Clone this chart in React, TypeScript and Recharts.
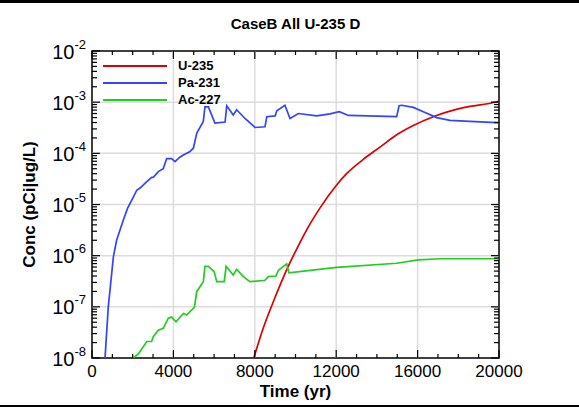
import { LineChart, Line, XAxis, YAxis, ReferenceLine, ReferenceArea, Legend } from 'recharts';

// time (yr) and concentration for each nuclide
const U235_TIME = [7950, 8400, 8900, 9620, 10220, 10550, 11200, 12020, 12510, 13330, 14150, 14970, 15790, 16770, 18250, 19890, 20000];
const U235_CONC = [1.0e-8, 3.7e-8, 1.23e-7, 5.9e-7, 1.8e-6, 3.2e-6, 8.5e-6, 2.4e-5, 4.0e-5, 7.6e-5, 1.32e-4, 2.3e-4, 3.5e-4, 5.2e-4, 7.8e-4, 1.02e-3, 1.05e-3];

const PA231_TIME = [640, 800, 1050, 1210, 1380, 1540, 1750, 2030, 2200, 2360, 2600, 2930, 3010, 3260, 3500, 3670, 3910, 4080, 4300, 4490, 4800, 4980, 5150, 5470, 5550, 5720, 6040, 6540, 6620, 6940, 7110, 7520, 8010, 8500, 8590, 9000, 9080, 9480, 9730, 10140, 11040, 11700, 12150, 12600, 14970, 15090, 15220, 15790, 16280, 16940, 17590, 18570, 19890, 20000];
const PA231_CONC = [1.0e-8, 1.0e-7, 9.5e-7, 2.0e-6, 3.2e-6, 5.0e-6, 8.5e-6, 1.4e-5, 1.9e-5, 2.1e-5, 2.6e-5, 3.4e-5, 3.4e-5, 4.4e-5, 5.0e-5, 7.9e-5, 7.9e-5, 6.9e-5, 8.3e-5, 9.3e-5, 1.07e-4, 1.26e-4, 2.5e-4, 4.2e-4, 8.1e-4, 8.1e-4, 3.9e-4, 4.1e-4, 8.5e-4, 5.6e-4, 7.1e-4, 4.8e-4, 3.2e-4, 3.3e-4, 5.2e-4, 5.4e-4, 6.8e-4, 8.7e-4, 4.8e-4, 6.0e-4, 5.4e-4, 5.9e-4, 6.5e-4, 5.5e-4, 5.2e-4, 8.5e-4, 8.7e-4, 7.9e-4, 6.5e-4, 5.0e-4, 4.4e-4, 4.2e-4, 4.0e-4, 4.0e-4];

const AC227_TIME = [2030, 2280, 2690, 2930, 3010, 3260, 3500, 3750, 3910, 4130, 4490, 4650, 5030, 5150, 5470, 5550, 5720, 6000, 6130, 6500, 6590, 6940, 7110, 7440, 7760, 8500, 8670, 9040, 9160, 9570, 9680, 12020, 14970, 16040, 17100, 20000];
const AC227_CONC = [1.0e-8, 1.2e-8, 2.1e-8, 2.1e-8, 2.6e-8, 3.5e-8, 3.8e-8, 6.0e-8, 6.3e-8, 5.1e-8, 7.4e-8, 6.9e-8, 9.8e-8, 2.0e-7, 3.1e-7, 6.2e-7, 6.2e-7, 4.9e-7, 3.1e-7, 3.1e-7, 6.2e-7, 4.2e-7, 5.4e-7, 3.9e-7, 3.1e-7, 3.3e-7, 3.9e-7, 4.0e-7, 5.2e-7, 6.9e-7, 4.6e-7, 5.9e-7, 7.1e-7, 8.3e-7, 8.7e-7, 8.7e-7];

const X_TICKS = [0, 1000, 2000, 3000, 4000, 5000, 6000, 7000, 8000, 9000, 10000, 11000, 12000, 13000, 14000, 15000, 16000, 17000, 18000, 19000, 20000];
const X_LABELED = [0, 4000, 8000, 12000, 16000, 20000];
const Y_DECADES = [1e-8, 1e-7, 1e-6, 1e-5, 1e-4, 1e-3, 1e-2];
const Y_EXPONENTS = ['-8', '-7', '-6', '-5', '-4', '-3', '-2'];

const zip = (ts: number[], vs: number[]) => ts.map((t, i) => ({ t, v: vs[i] }));

const SERIES = [
  { name: 'U-235', color: '#dc0000', curve: 'monotone', data: zip(U235_TIME, U235_CONC) },
  { name: 'Pa-231', color: '#3344ff', curve: 'linear', data: zip(PA231_TIME, PA231_CONC) },
  { name: 'Ac-227', color: '#22cc22', curve: 'linear', data: zip(AC227_TIME, AC227_CONC) },
];

// minor ticks 2..9 inside each decade
const Y_TICKS: number[] = [];
Y_DECADES.forEach((d, i) => {
  Y_TICKS.push(d);
  if (i < Y_DECADES.length - 1) for (let k = 2; k <= 9; k++) Y_TICKS.push(d * k);
});

const FONT = '"Liberation Sans", Arial, sans-serif';
const W = 579;
const H = 407;
const PLOT = { left: 92, top: 51, right: 499, bottom: 358 };
const GRID = '#dcdcdc';

const XTick = (props: any) => {
  const { x, payload } = props;
  const v = payload.value;
  const major = X_LABELED.includes(v);
  const len = major ? 8 : 4;
  return (
    <g>
      <line x1={x} x2={x} y1={PLOT.bottom} y2={PLOT.bottom - len} stroke="#000" strokeWidth={1.2} />
      <line x1={x} x2={x} y1={PLOT.top} y2={PLOT.top + len} stroke="#000" strokeWidth={1.2} />
      {major && (
        <text x={x} y={377} textAnchor="middle" fontSize={17} fontFamily={FONT} fill="#000">
          {v}
        </text>
      )}
    </g>
  );
};

const YTick = (props: any) => {
  const { y, payload } = props;
  const idx = Y_DECADES.findIndex(d => Math.abs(d - payload.value) / d < 1e-6);
  const major = idx >= 0;
  const len = major ? 8 : 5;
  return (
    <g>
      <line x1={PLOT.left} x2={PLOT.left + len} y1={y} y2={y} stroke="#000" strokeWidth={1.2} />
      <line x1={PLOT.right} x2={PLOT.right - len} y1={y} y2={y} stroke="#000" strokeWidth={1.2} />
      {major && (
        <text x={PLOT.left - 6} y={y + 7.5} textAnchor="end" fontFamily={FONT} fill="#000">
          <tspan fontSize={20}>10</tspan>
          <tspan fontSize={13} dy={-10}>{Y_EXPONENTS[idx]}</tspan>
        </text>
      )}
    </g>
  );
};

const LegendBox = () => (
  <div style={{ fontFamily: FONT, fontWeight: 'bold', fontSize: 13, color: '#000' }}>
    {SERIES.map(s => (
      <div key={s.name} style={{ display: 'flex', alignItems: 'center', height: 16.7 }}>
        <svg width={64} height={4} style={{ display: 'block' }}>
          <line x1={0} x2={64} y1={2} y2={2} stroke={s.color} strokeWidth={2} />
        </svg>
        <span style={{ marginLeft: 11, lineHeight: '16px' }}>{s.name}</span>
      </div>
    ))}
  </div>
);

export default function App() {
  return (
    <div style={{ position: 'absolute', left: 0, top: 0, width: W, height: H, background: '#fff' }}>
      <div style={{ position: 'absolute', left: 0, top: 0, width: W, height: 2.5, background: '#000' }} />
      <div style={{ position: 'absolute', left: 0, top: 404.5, width: W, height: 2, background: '#000' }} />
      <div
        style={{
          position: 'absolute', left: 0, top: 15, width: 2 * 295.5, textAlign: 'center',
          fontFamily: FONT, fontWeight: 'bold', fontSize: 15, lineHeight: '17px',
        }}
      >
        CaseB All U-235 D
      </div>
      <LineChart width={W} height={H} margin={{ top: PLOT.top, right: W - PLOT.right, bottom: 0, left: 0 }}>
        {X_LABELED.slice(1, -1).map(v => (
          <ReferenceLine key={'gx' + v} x={v} stroke={GRID} strokeWidth={1.5} />
        ))}
        {Y_DECADES.slice(1, -1).map(v => (
          <ReferenceLine key={'gy' + v} y={v} stroke={GRID} strokeWidth={1.5} />
        ))}
        <XAxis
          dataKey="t"
          type="number"
          domain={[0, 20000]}
          ticks={X_TICKS}
          interval={0}
          height={H - PLOT.bottom}
          tickSize={0}
          tickMargin={0}
          axisLine={false}
          tick={<XTick />}
          allowDataOverflow
          label={{ value: 'Time (yr)', position: 'insideBottom', offset: 10, fontFamily: FONT, fontWeight: 'bold', fontSize: 17, fill: '#000' }}
        />
        <YAxis
          dataKey="v"
          scale="log"
          domain={[1e-8, 1e-2]}
          ticks={Y_TICKS}
          interval={0}
          width={PLOT.left}
          tickSize={0}
          tickMargin={0}
          axisLine={false}
          tick={<YTick />}
          allowDataOverflow
          label={{ value: 'Conc (pCi|ug/L)', angle: -90, position: 'insideLeft', offset: 29, style: { textAnchor: 'middle' }, fontFamily: FONT, fontWeight: 'bold', fontSize: 17, fill: '#000' }}
        />
        {SERIES.map(s => (
          <Line
            key={s.name}
            data={s.data}
            dataKey="v"
            name={s.name}
            type={s.curve as any}
            stroke={s.color}
            strokeWidth={1.7}
            dot={false}
            activeDot={false}
            isAnimationActive={false}
          />
        ))}
        <ReferenceArea x1={0} x2={20000} y1={1e-8} y2={1e-2} fill="none" stroke="#000" strokeWidth={1.5} />
        <Legend
          layout="vertical"
          align="center"
          verticalAlign="middle"
          content={<LegendBox />}
          wrapperStyle={{ left: 103, top: 58, width: 'auto' }}
        />
      </LineChart>
    </div>
  );
}
